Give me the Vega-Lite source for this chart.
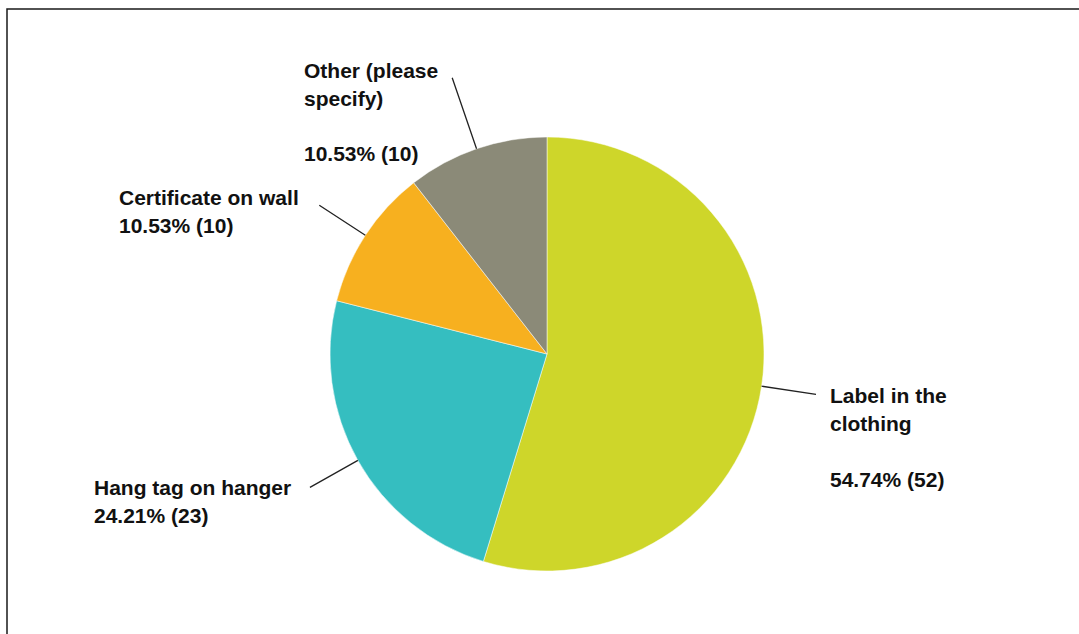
{
  "$schema": "https://vega.github.io/schema/vega-lite/v6.json",
  "width": 1080,
  "height": 690,
  "padding": {"left": 7, "top": 9, "right": -8, "bottom": -65},
  "background": "white",
  "view": {"stroke": "#1a1a1a", "strokeWidth": 1.5, "fill": "white"},
  "config": {
    "view": {"stroke": "#1a1a1a", "strokeWidth": 1.5},
    "text": {"align": "left", "baseline": "alphabetic", "lineBreak": "\n", "lineHeight": 28, "font": "Liberation Sans", "fontSize": 21, "fontWeight": "bold", "color": "#111111"}
  },
  "data": {
    "values": [
      {"label": "Label in the clothing", "value": 52, "order": 1, "name": "Label in the\nclothing", "pct": "54.74% (52)"},
      {"label": "Hang tag on hanger", "value": 23, "order": 2, "name": "Hang tag on hanger", "pct": "24.21% (23)"},
      {"label": "Certificate on wall", "value": 10, "order": 3, "name": "Certificate on wall", "pct": "10.53% (10)"},
      {"label": "Other (please specify)", "value": 10, "order": 4, "name": "Other (please\nspecify)", "pct": "10.53% (10)"}
    ]
  },
  "layer": [
    {
      "mark": {"type": "arc", "radius": 217, "stroke": "white", "strokeWidth": 0.5},
      "encoding": {
        "theta": {"field": "value", "type": "quantitative", "stack": true, "scale": {"domain": [0, 95]}},
        "order": {"field": "order", "type": "quantitative"},
        "color": {
          "field": "label", "type": "nominal", "legend": null,
          "scale": {
            "domain": ["Label in the clothing", "Hang tag on hanger", "Certificate on wall", "Other (please specify)"],
            "range": ["#CED62A", "#35BEC0", "#F7B01F", "#8B8A78"]
          }
        }
      }
    },
    {
      "transform": [
        {"stack": "value", "groupby": [], "sort": [{"field": "order"}], "as": ["s0", "s1"]},
        {"fold": ["s0", "s1"], "as": ["k", "edge"]},
        {"aggregate": [{"op": "mean", "field": "edge", "as": "mid"}], "groupby": ["label"]},
        {"filter": "datum.label !== 'Other (please specify)'"}
      ],
      "mark": {"type": "arc", "radius": 217, "radius2": 272, "stroke": "#222222", "strokeWidth": 1.3, "fill": null},
      "encoding": {
        "theta": {"field": "mid", "type": "quantitative", "stack": null, "scale": {"domain": [0, 95]}},
        "theta2": {"field": "mid"}
      }
    },
    {
      "transform": [
        {"stack": "value", "groupby": [], "sort": [{"field": "order"}], "as": ["s0", "s1"]},
        {"fold": ["s0", "s1"], "as": ["k", "edge"]},
        {"aggregate": [{"op": "mean", "field": "edge", "as": "mid"}], "groupby": ["label"]},
        {"filter": "datum.label === 'Other (please specify)'"}
      ],
      "mark": {"type": "arc", "radius": 217, "radius2": 292, "stroke": "#222222", "strokeWidth": 1.3, "fill": null},
      "encoding": {
        "theta": {"field": "mid", "type": "quantitative", "stack": null, "scale": {"domain": [0, 95]}},
        "theta2": {"field": "mid"}
      }
    },
    {
      "transform": [{"filter": "datum.order === 1"}],
      "mark": {"type": "text", "x": {"expr": "width/2"}, "y": {"expr": "height/2"}, "dx": 283, "dy": 49},
      "encoding": {"text": {"field": "name"}}
    },
    {
      "transform": [{"filter": "datum.order === 1"}],
      "mark": {"type": "text", "x": {"expr": "width/2"}, "y": {"expr": "height/2"}, "dx": 283, "dy": 133},
      "encoding": {"text": {"field": "pct"}}
    },
    {
      "transform": [{"filter": "datum.order === 2"}],
      "mark": {"type": "text", "x": {"expr": "width/2"}, "y": {"expr": "height/2"}, "dx": -453, "dy": 141},
      "encoding": {"text": {"field": "name"}}
    },
    {
      "transform": [{"filter": "datum.order === 2"}],
      "mark": {"type": "text", "x": {"expr": "width/2"}, "y": {"expr": "height/2"}, "dx": -453, "dy": 169},
      "encoding": {"text": {"field": "pct"}}
    },
    {
      "transform": [{"filter": "datum.order === 3"}],
      "mark": {"type": "text", "x": {"expr": "width/2"}, "y": {"expr": "height/2"}, "dx": -428, "dy": -149},
      "encoding": {"text": {"field": "name"}}
    },
    {
      "transform": [{"filter": "datum.order === 3"}],
      "mark": {"type": "text", "x": {"expr": "width/2"}, "y": {"expr": "height/2"}, "dx": -428, "dy": -121},
      "encoding": {"text": {"field": "pct"}}
    },
    {
      "transform": [{"filter": "datum.order === 4"}],
      "mark": {"type": "text", "x": {"expr": "width/2"}, "y": {"expr": "height/2"}, "dx": -243, "dy": -276},
      "encoding": {"text": {"field": "name"}}
    },
    {
      "transform": [{"filter": "datum.order === 4"}],
      "mark": {"type": "text", "x": {"expr": "width/2"}, "y": {"expr": "height/2"}, "dx": -243, "dy": -193},
      "encoding": {"text": {"field": "pct"}}
    }
  ]
}
